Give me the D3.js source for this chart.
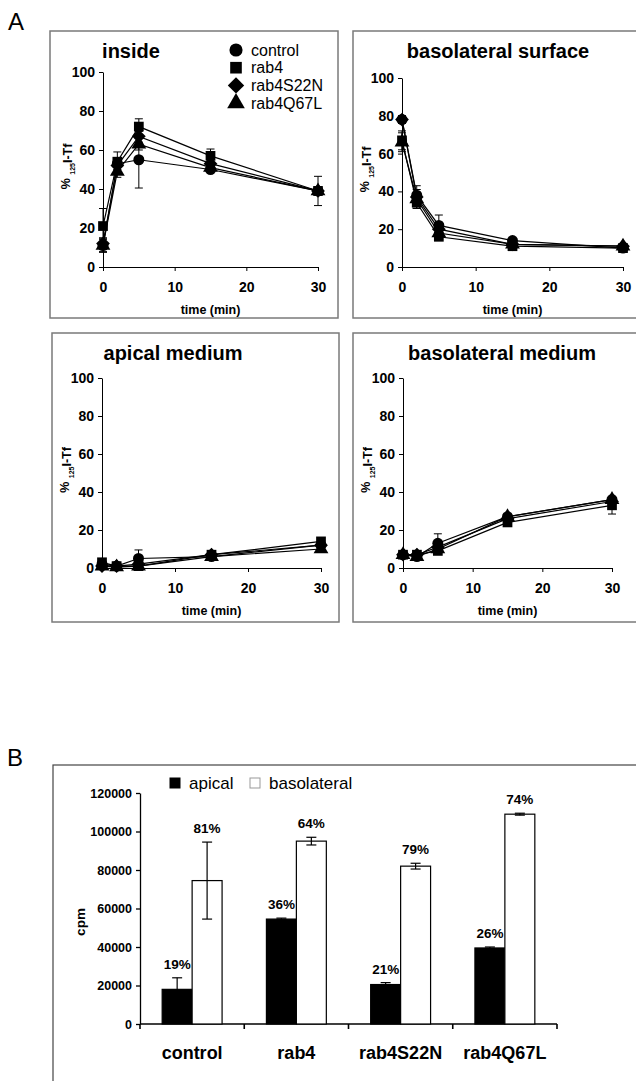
<!DOCTYPE html>
<html>
<head>
<meta charset="utf-8">
<script src="https://cdn.jsdelivr.net/npm/d3@7"></script>
<style>
  body { margin: 0; background: #fff; }
  svg { display: block; font-family: "Liberation Sans", Arial, sans-serif; }
</style>
</head>
<body>
<svg id="fig"></svg>
<script>
const WIDTH = 636;
const HEIGHT = 1081;

// ---- panel A data: % 125I-Tf over time, one row per treatment ----
const times = [0, 2, 5, 15, 30];
const treatments = ["control", "rab4", "rab4S22N", "rab4Q67L"];
const panelTitles = ["inside", "basolateral surface", "apical medium", "basolateral medium"];

const insideValues = [[11, 53, 55, 50, 39], [21, 54, 72, 57, 39], [12, 52, 67, 53, 39], [11, 49, 63, 51, 39]];
const insideErrors = [[3.5, 3, 14.5, 1, 7.5], [9, 5, 4, 3.5, 2], [3, 3, 3, 2, 2], [3, 3, 3, 2, 2]];

const surfaceValues = [[78, 38, 22, 14, 10], [67, 34, 16, 11, 10], [78, 37, 20, 12, 11], [66, 36, 18, 12, 11]];
const surfaceErrors = [[2, 3, 5.5, 1, 1], [5, 3, 2, 1, 1], [2, 6, 2, 1, 1], [5, 3, 2, 1, 1]];

const apicalValues = [[2, 1, 5, 6, 12], [3, 1, 1, 7, 14], [1, 1, 2, 7, 12], [1, 0.5, 1, 6, 10]];
const apicalErrors = [[1, 0.5, 4.5, 1, 1], [1, 0.5, 1, 1, 1.5], [1, 0.5, 1, 1, 1], [1, 0.5, 1, 1, 1]];

const basoMediumValues = [[7, 6, 13, 27, 36], [7, 7, 9, 24, 33], [7, 7, 11, 26, 35], [7, 6, 10, 27, 36]];
const basoMediumErrors = [[1, 1, 5, 1.5, 1.5], [1, 1, 1.5, 1.5, 4.6], [1, 1, 1.5, 1, 1], [1, 1, 1, 1, 1]];

const yTicks = [0, 20, 40, 60, 80, 100];
const xTicks = [0, 10, 20, 30];

// ---- panel B data ----
const barCategories = ["control", "rab4", "rab4S22N", "rab4Q67L"];
const barSeries = ["apical", "basolateral"];
const apicalCpm = [18000, 54500, 20500, 39500];
const apicalCpmErr = [6000, 500, 1000, 500];
const basolateralCpm = [74500, 95000, 82000, 109000];
const basolateralCpmErr = [20000, 2000, 1500, 500];
const apicalPct = ["19%", "36%", "21%", "26%"];
const basolateralPct = ["81%", "64%", "79%", "74%"];
const cpmTicks = [0, 20000, 40000, 60000, 80000, 100000, 120000];

const svg = d3.select("#fig").attr("width", WIDTH).attr("height", HEIGHT);

// square diamond (Excel style), not the tall d3 one
const squareDiamond = {
  draw(ctx, size) {
    const r = Math.sqrt(size / 2);
    ctx.moveTo(0, -r);
    ctx.lineTo(r, 0);
    ctx.lineTo(0, r);
    ctx.lineTo(-r, 0);
    ctx.closePath();
  }
};
const symbols = [d3.symbolCircle, d3.symbolSquare, squareDiamond, d3.symbolTriangle];

// layout of the four small panels
const panels = [
  { values: insideValues, errors: insideErrors, box: [50, 31, 288, 287], x0: 103, x1: 318, yTop: 72, yBot: 267, titleX: 131, titleY: 58, legend: true },
  { values: surfaceValues, errors: surfaceErrors, box: [353, 31, 300, 287], x0: 402, x1: 623, yTop: 78, yBot: 267, titleX: 498, titleY: 58 },
  { values: apicalValues, errors: apicalErrors, box: [52, 333, 287, 289], x0: 102, x1: 321, yTop: 378, yBot: 568, titleX: 173, titleY: 360 },
  { values: basoMediumValues, errors: basoMediumErrors, box: [353, 333, 300, 289], x0: 403, x1: 612, yTop: 378, yBot: 568, titleX: 502, titleY: 360 }
];

svg.append("text").attr("x", 8).attr("y", 30).attr("font-size", 24).text("A");

panels.forEach((p, pi) => {
  const g = svg.append("g").attr("class", "panel");

  g.append("rect")
    .attr("x", p.box[0]).attr("y", p.box[1])
    .attr("width", p.box[2]).attr("height", p.box[3])
    .attr("fill", "none").attr("stroke", "#7a7a7a").attr("stroke-width", 1.5);

  const x = d3.scaleLinear().domain([0, 30]).range([p.x0, p.x1]);
  const y = d3.scaleLinear().domain([0, 100]).range([p.yBot, p.yTop]);

  g.append("g")
    .attr("transform", `translate(${p.x0},0)`)
    .call(d3.axisLeft(y).tickValues(yTicks).tickSize(4).tickSizeOuter(0).tickPadding(4))
    .call((a) => a.selectAll("text").attr("font-size", 14).attr("font-weight", "bold").attr("font-family", null))
    .call((a) => a.selectAll("path,line").attr("stroke", "#000"));

  g.append("g")
    .attr("transform", `translate(0,${p.yBot})`)
    .call(d3.axisBottom(x).tickValues(xTicks).tickSize(4).tickSizeOuter(0).tickPadding(11))
    .call((a) => a.selectAll("text").attr("font-size", 14).attr("font-weight", "bold").attr("font-family", null))
    .call((a) => a.selectAll("path,line").attr("stroke", "#000"));

  g.append("text")
    .attr("x", p.titleX).attr("y", p.titleY)
    .attr("text-anchor", "middle")
    .attr("font-size", 20).attr("font-weight", "bold")
    .text(panelTitles[pi]);

  g.append("text")
    .attr("x", (p.x0 + p.x1) / 2).attr("y", p.yBot + 47)
    .attr("text-anchor", "middle")
    .attr("font-size", 12.5).attr("font-weight", "bold")
    .text("time (min)");

  const yl = g.append("text")
    .attr("transform", `translate(${p.x0 - 31},${(p.yTop + p.yBot) / 2 - 3}) rotate(-90)`)
    .attr("text-anchor", "middle")
    .attr("font-size", 12.5).attr("font-weight", "bold");
  yl.append("tspan").attr("dy", -2).text("% ");
  yl.append("tspan").attr("dy", 5).attr("font-size", 7).text("125");
  yl.append("tspan").attr("dy", -3).text("I-Tf");

  const line = d3.line().x((d, i) => x(times[i])).y((d) => y(d));

  g.append("g")
    .selectAll("path")
    .data(p.values)
    .join("path")
    .attr("d", line)
    .attr("fill", "none")
    .attr("stroke", "#000")
    .attr("stroke-width", 1.2);

  // error bars
  p.values.forEach((row, si) => {
    const eg = g.append("g").attr("stroke", "#000").attr("stroke-width", 1);
    row.forEach((v, i) => {
      const e = p.errors[si][i];
      const cx = x(times[i]);
      eg.append("line").attr("x1", cx).attr("x2", cx).attr("y1", y(v - e)).attr("y2", y(v + e));
      eg.append("line").attr("x1", cx - 4).attr("x2", cx + 4).attr("y1", y(v + e)).attr("y2", y(v + e));
      eg.append("line").attr("x1", cx - 4).attr("x2", cx + 4).attr("y1", y(v - e)).attr("y2", y(v - e));
    });
  });

  p.values.forEach((row, si) => {
    g.append("g")
      .selectAll("path")
      .data(row)
      .join("path")
      .attr("d", d3.symbol(symbols[si], 95))
      .attr("transform", (d, i) => `translate(${x(times[i])},${y(d)})`)
      .attr("fill", "#000");
  });

  if (p.legend) {
    g.append("g")
      .attr("class", "legend")
      .attr("transform", "translate(236, 50)")
      .selectAll(".item")
      .data(treatments)
      .join((enter) => {
        const it = enter.append("g")
          .attr("class", "item")
          .attr("transform", (_, i) => `translate(0, ${i * 17.7})`);
        it.append("path")
          .attr("d", (_, i) => d3.symbol(symbols[i], 135)())
          .attr("fill", "#000");
        it.append("text")
          .attr("x", 15).attr("y", 5.5)
          .attr("font-size", 16)
          .text((d) => d);
        return it;
      });
  }
});

// ---- panel B ----
svg.append("text").attr("x", 7).attr("y", 766).attr("font-size", 24).text("B");

svg.append("rect")
  .attr("x", 53).attr("y", 765)
  .attr("width", 620).attr("height", 400)
  .attr("fill", "none").attr("stroke", "#444").attr("stroke-width", 1.2);

const yBar = d3.scaleLinear().domain([0, 120000]).range([1024, 793]);
const xBand = d3.scaleBand().domain(barCategories).range([140, 557]);
const xSub = d3.scaleBand().domain(barSeries).range([0, xBand.bandwidth()]).paddingOuter(0.74);

const barG = svg.append("g").attr("class", "bars");

barG.append("g")
  .attr("transform", "translate(140,0)")
  .call(d3.axisLeft(yBar).tickValues(cpmTicks).tickFormat(d3.format("d")).tickSize(4).tickSizeOuter(0).tickPadding(4))
  .call((a) => a.selectAll("text").attr("font-size", 12.5).attr("font-weight", "bold").attr("font-family", null))
  .call((a) => a.selectAll("path,line").attr("stroke", "#000").attr("stroke-width", 1.3));

// x axis with ticks between categories
const xAxisG = barG.append("g").attr("stroke", "#000").attr("stroke-width", 1.6);
xAxisG.append("line").attr("x1", xBand.range()[0]).attr("x2", xBand.range()[1]).attr("y1", yBar(0)).attr("y2", yBar(0));
xAxisG.selectAll(".tick")
  .data([xBand.range()[0], ...barCategories.map((c) => xBand(c) + xBand.bandwidth())])
  .join("line")
  .attr("x1", (d) => d).attr("x2", (d) => d)
  .attr("y1", yBar(0)).attr("y2", yBar(0) + 5);

barG.append("g")
  .selectAll("text")
  .data(barCategories)
  .join("text")
  .attr("x", (d) => xBand(d) + xBand.bandwidth() / 2)
  .attr("y", 1059)
  .attr("text-anchor", "middle")
  .attr("font-size", 18).attr("font-weight", "bold")
  .text((d) => d);

const barRows = [
  { key: "apical", vals: apicalCpm, errs: apicalCpmErr, pct: apicalPct, fill: "#000" },
  { key: "basolateral", vals: basolateralCpm, errs: basolateralCpmErr, pct: basolateralPct, fill: "#fff" }
];

barRows.forEach((s) => {
  const bx = (i) => xBand(barCategories[i]) + xSub(s.key);
  const w = xSub.bandwidth();
  barG.append("g")
    .selectAll("rect")
    .data(s.vals)
    .join("rect")
    .attr("x", (d, i) => bx(i))
    .attr("y", (d) => yBar(d))
    .attr("width", w)
    .attr("height", (d) => yBar(0) - yBar(d))
    .attr("fill", s.fill)
    .attr("stroke", "#000")
    .attr("stroke-width", 1.2);

  const eg = barG.append("g").attr("stroke", "#000").attr("stroke-width", 1.2);
  s.vals.forEach((v, i) => {
    const cx = bx(i) + w / 2;
    const e = s.errs[i];
    eg.append("line").attr("x1", cx).attr("x2", cx).attr("y1", yBar(v - e)).attr("y2", yBar(v + e));
    eg.append("line").attr("x1", cx - 5).attr("x2", cx + 5).attr("y1", yBar(v + e)).attr("y2", yBar(v + e));
    eg.append("line").attr("x1", cx - 5).attr("x2", cx + 5).attr("y1", yBar(v - e)).attr("y2", yBar(v - e));
  });

  barG.append("g")
    .selectAll("text")
    .data(s.pct)
    .join("text")
    .attr("x", (d, i) => bx(i) + w / 2)
    .attr("y", (d, i) => yBar(s.vals[i] + s.errs[i]) - 9)
    .attr("text-anchor", "middle")
    .attr("font-size", 13.5).attr("font-weight", "bold")
    .text((d) => d);
});

svg.append("text")
  .attr("transform", "translate(85,922) rotate(-90)")
  .attr("text-anchor", "middle")
  .attr("font-size", 13.5).attr("font-weight", "bold")
  .text("cpm");

// legend for B
const legB = svg.append("g").attr("class", "legend-b").attr("transform", "translate(170, 778)");
legB.selectAll("g")
  .data(barRows)
  .join((enter) => {
    const it = enter.append("g").attr("transform", (_, i) => `translate(${i * 80}, 0)`);
    it.append("rect")
      .attr("width", 10).attr("height", 10)
      .attr("fill", (d) => d.fill)
      .attr("stroke", (d) => (d.fill === "#000" ? "#000" : "#999"));
    it.append("text")
      .attr("x", 19).attr("y", 11)
      .attr("font-size", 17)
      .text((d) => d.key);
    return it;
  });
</script>
</body>
</html>
